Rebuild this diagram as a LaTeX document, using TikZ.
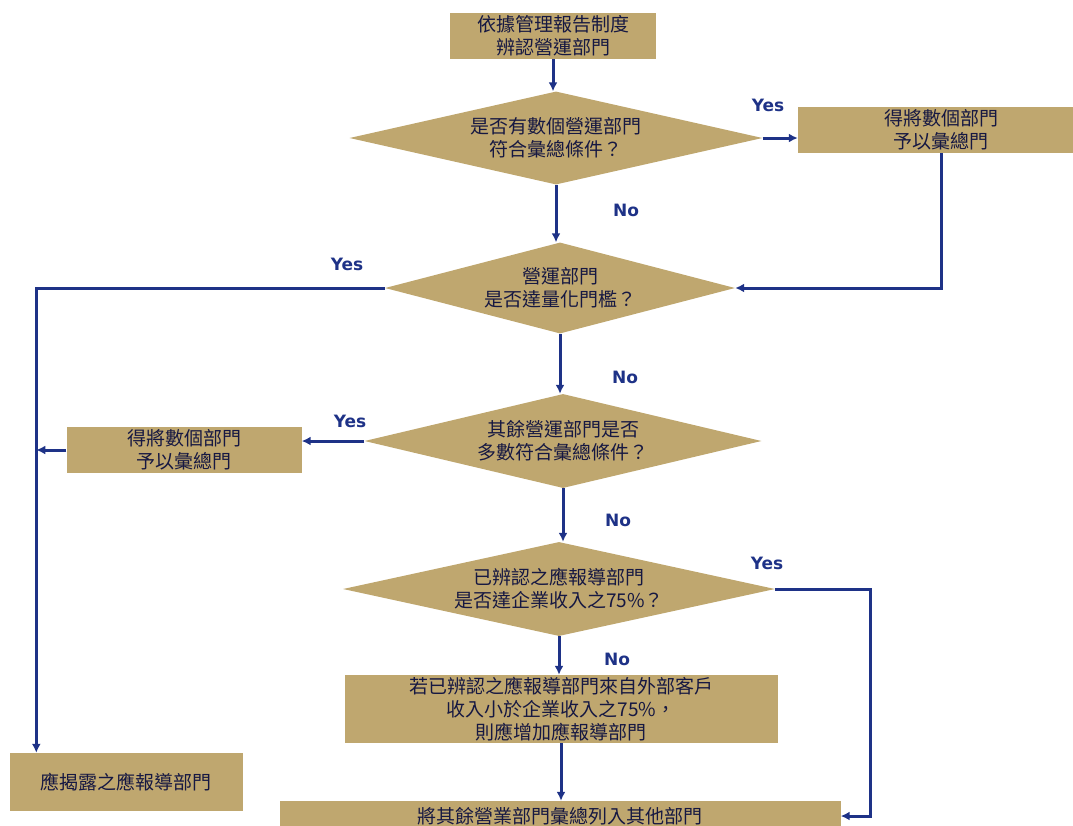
\documentclass[tikz,border=0pt]{standalone}
\usepackage{fontspec}
\newfontfamily\cjk{Noto Sans CJK TC}
\newfontfamily\lblfont{DejaVu Sans}
\usetikzlibrary{shapes.geometric,arrows.meta}
\definecolor{boxtan}{RGB}{191,167,111}
\definecolor{linenavy}{RGB}{30,50,135}
\definecolor{inknavy}{RGB}{22,24,66}

\begin{document}
\begin{tikzpicture}[x=1pt,y=-1pt,
  box/.style={fill=boxtan,inner sep=0pt,align=center,text=inknavy,
    font=\cjk\fontsize{19}{23}\selectfont},
  dia/.style={box,diamond,shape aspect=4.4},
  arr/.style={draw=linenavy,line width=3pt,-{Latex[length=9pt,width=9pt]}},
  lbl/.style={text=linenavy,font=\lblfont\bfseries\fontsize{17}{20}\selectfont}]
\useasboundingbox (0,0) rectangle (1073,825);
% boxes and decisions
\node[box,minimum width=206,minimum height=46] (start) at (553,36) {依據管理報告制度\\辨認營運部門};
\node[dia,minimum width=413,minimum height=93] (multi) at (556,138) {是否有數個營運部門\\符合彙總條件？};
\node[box,minimum width=286,minimum height=46] (aggr1) at (941,130) {得將數個部門\\予以彙總門};
\node[dia,minimum width=350,minimum height=91] (quant) at (560,288) {營運部門\\是否達量化門檻？};
\node[dia,minimum width=397,minimum height=94] (rest) at (563,441) {其餘營運部門是否\\多數符合彙總條件？};
\node[box,minimum width=235,minimum height=46] (aggr2) at (184,450) {得將數個部門\\予以彙總門};
\node[dia,minimum width=432,minimum height=94] (share) at (559,589) {已辨認之應報導部門\\是否達企業收入之75\%？};
\node[box,minimum width=433,minimum height=68] (addseg) at (561,709) {若已辨認之應報導部門來自外部客戶\\收入小於企業收入之75\%，\\則應增加應報導部門};
\node[box,minimum width=561,minimum height=30] (other) at (560,816) {將其餘營業部門彙總列入其他部門};
\node[box,minimum width=233,minimum height=58] (disclose) at (126,782) {應揭露之應報導部門};
\coordinate (leftin) at ([xshift=27]disclose.north west);
\coordinate (rightturn) at (870,589);
% connectors
\draw[arr] (start.south) -- (start.south |- multi.north);
\draw[arr] (multi.east) -- (multi.east -| aggr1.west);
\draw[arr] (aggr1.south) |- (quant.east);
\draw[arr] (multi.south) -- (multi.south |- quant.north);
\draw[arr] (quant.west) -| (leftin);
\draw[arr] (quant.south) -- (quant.south |- rest.north);
\draw[arr] (rest.west) -- (rest.west -| aggr2.east);
\draw[arr] (aggr2.west) -- (aggr2.west -| leftin);
\draw[arr] (rest.south) -- (rest.south |- share.north);
\draw[arr] (share.east) -- (rightturn) |- (other.east);
\draw[arr] (share.south) -- (share.south |- addseg.north);
\draw[arr] (addseg.south) -- (addseg.south |- other.north);
% yes / no labels
\node[lbl] (yes1) at (768,105) {Yes};
\node[lbl] (no1) at (626,210) {No};
\node[lbl] (yes2) at (347,264) {Yes};
\node[lbl] (no2) at (625,377) {No};
\node[lbl] (yes3) at (350,421) {Yes};
\node[lbl] (no3) at (618,520) {No};
\node[lbl] (yes4) at (767,563) {Yes};
\node[lbl] (no4) at (617,659) {No};
\end{tikzpicture}
\end{document}
